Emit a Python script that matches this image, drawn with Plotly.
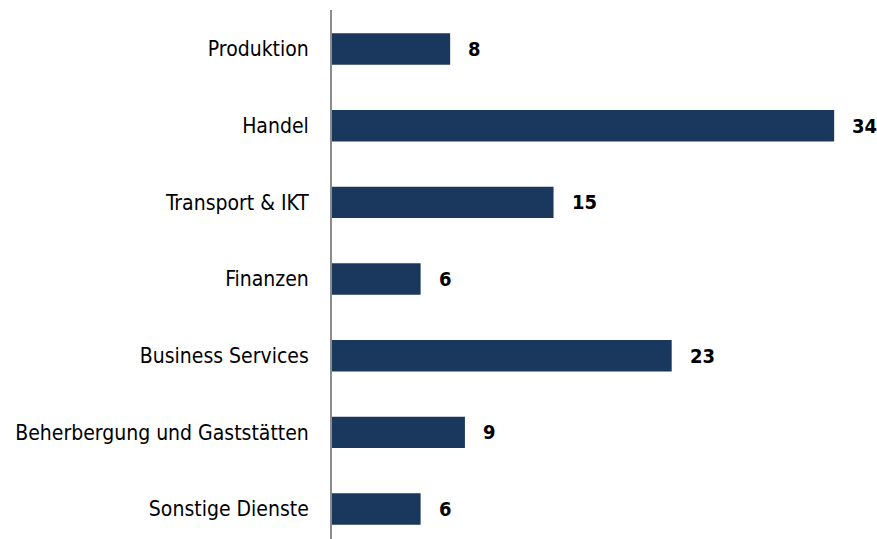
import plotly.graph_objects as go

# Branchen und Werte
branchen = ['Produktion', 'Handel', 'Transport & IKT', 'Finanzen',
            'Business Services', 'Beherbergung und Gaststätten', 'Sonstige Dienste']
werte = [8, 34, 15, 6, 23, 9, 6]

bar_color = '#1a375e'
font_family = '"DejaVu Sans Condensed", "Liberation Sans Narrow", "Arial Narrow", "Liberation Sans", Arial, sans-serif'

fig = go.Figure()
fig.add_trace(go.Bar(
    x=werte,
    y=branchen,
    orientation='h',
    width=0.41,
    marker=dict(color=bar_color, line=dict(width=0)),
    hoverinfo='x+y',
))

# Wertebeschriftungen rechts neben den Balken
for b, w in zip(branchen, werte):
    fig.add_annotation(
        x=w, y=b, text=f'<b>{w}</b>',
        xanchor='left', yanchor='middle', xshift=16,
        showarrow=False,
        font=dict(family=font_family, size=20, color='#000000'),
    )

fig.update_layout(
    width=877, height=539,
    margin=dict(l=332, r=0, t=10, b=0),
    plot_bgcolor='white',
    paper_bgcolor='white',
    showlegend=False,
    font=dict(family=font_family, size=21, color='#000000'),
)

fig.update_xaxes(visible=False, range=[0, 36.9])
fig.update_yaxes(
    type='category',
    categoryorder='array', categoryarray=branchen,
    range=[6.391, -0.509],
    showline=True, linecolor='#8c8c8c', linewidth=2,
    showgrid=False, zeroline=False,
    ticks='', ticklabelstandoff=17,
    tickfont=dict(family=font_family, size=21, color='#000000'),
)

# Seitenrand des Browsers entfernen, keine Modebar
fig.write_html('out.html', config={'displayModeBar': False},
               post_script="document.body.style.margin='0';")
